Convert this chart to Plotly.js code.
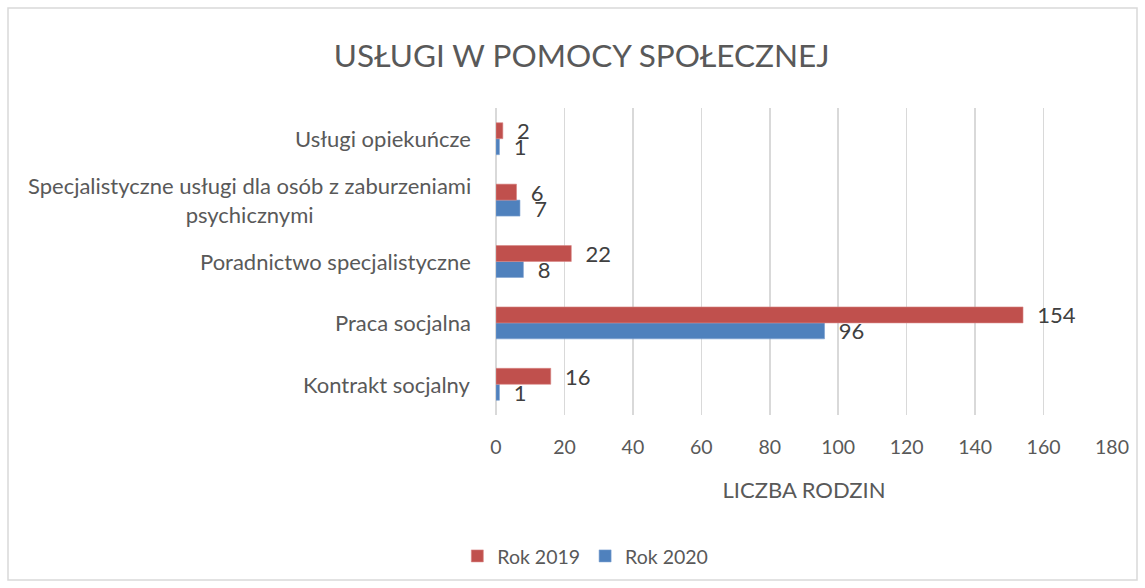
<!DOCTYPE html>
<html>
<head>
<meta charset="utf-8">
<script src="https://cdn.plot.ly/plotly-3.0.1.min.js"></script>
<style>html,body{margin:0;padding:0;background:#fff;}</style>
</head>
<body>
<div id="chart" style="width:1145px;height:588px;"></div>
<script>
const categories = ["Kontrakt socjalny", "Praca socjalna", "Poradnictwo specjalistyczne", "Specjalistyczne usługi dla osób z zaburzeniami<br>psychicznymi", "Usługi opiekuńcze"];
const rok2019 = [16, 154, 22, 6, 2];
const rok2020 = [1, 96, 8, 7, 1];
const tickVals = [0, 20, 40, 60, 80, 100, 120, 140, 160, 180];

const FONT = "Lato, 'Liberation Sans', sans-serif";
const labelFont = {family: FONT, size: 22, color: '#404040'};

const traces = [
  {type: 'bar', orientation: 'h', name: 'Rok 2020', y: categories, x: rok2020,
   marker: {color: '#4F81BD', line: {color: '#7aa0d0', width: 0.6}},
   text: rok2020.map(v => '\u00a0\u00a0' + v), textposition: 'outside', cliponaxis: false,
   constraintext: 'none', textfont: labelFont, hoverinfo: 'x+name'},
  {type: 'bar', orientation: 'h', name: 'Rok 2019', y: categories, x: rok2019,
   marker: {color: '#C0504D', line: {color: '#d98684', width: 0.6}},
   text: rok2019.map(v => '\u00a0\u00a0' + v), textposition: 'outside', cliponaxis: false,
   constraintext: 'none', textfont: labelFont, hoverinfo: 'x+name'}
];

const annotations = categories.map(c => ({
  xref: 'paper', yref: 'y', x: -0.037, y: c, xanchor: 'right', yanchor: 'middle',
  align: 'center', text: c, showarrow: false,
  font: {family: FONT, size: 22, color: '#595959'}
}));

const layout = {
  width: 1145, height: 588,
  margin: {l: 496, r: 33, t: 108, b: 173},
  paper_bgcolor: '#fff', plot_bgcolor: '#fff',
  font: {family: FONT, color: '#595959'},
  title: {text: 'USŁUGI W POMOCY SPOŁECZNEJ', font: {family: FONT, size: 31.5, color: '#595959'},
          x: 0.508, xanchor: 'center', y: 0.905, yanchor: 'middle'},
  barmode: 'group', bargap: 0.48, bargroupgap: 0,
  showlegend: true,
  legend: {orientation: 'h', x: 0.145, xanchor: 'center', y: -0.46, yanchor: 'middle',
           traceorder: 'reversed', font: {family: FONT, size: 19.5, color: '#595959'},
           itemwidth: 30},
  xaxis: {range: [0, 180], tickvals: tickVals, ticktext: tickVals.map(String),
          showgrid: true, gridcolor: '#d9d9d9', gridwidth: 1.5,
          zeroline: true, zerolinecolor: '#d9d9d9', zerolinewidth: 1.5,
          showline: false, ticks: '', ticklabelstandoff: 18,
          tickfont: {family: FONT, size: 19.5, color: '#595959'},
          title: {text: 'LICZBA RODZIN', font: {family: FONT, size: 22, color: '#595959'}, standoff: 26},
          fixedrange: true},
  yaxis: {type: 'category', categoryarray: categories, showticklabels: false,
          showgrid: false, zeroline: false, showline: false, ticks: '', fixedrange: true},
  annotations: annotations,
  shapes: [{type: 'rect', xref: 'paper', yref: 'paper',
            x0: (8 - 496) / 616, x1: (1137 - 496) / 616,
            y0: (415 - 580) / 307, y1: (415 - 8) / 307,
            line: {color: '#d9d9d9', width: 1.5}, fillcolor: 'rgba(0,0,0,0)', layer: 'below'}]
};

Plotly.newPlot('chart', traces, layout, {displayModeBar: false, staticPlot: true});
</script>
</body>
</html>
